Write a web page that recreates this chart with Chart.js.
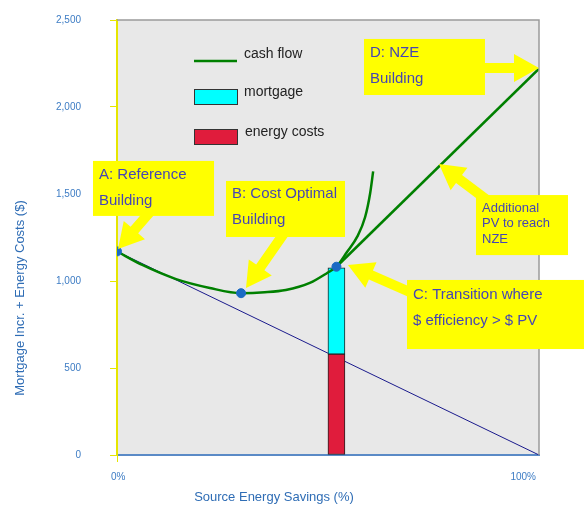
<!DOCTYPE html>
<html><head><meta charset="utf-8">
<script src="https://cdn.jsdelivr.net/npm/chart.js@4"></script>
<style>html,body{margin:0;padding:0;background:#fff}#wrap{width:584px;height:505px}</style>
</head><body><div id="wrap"><canvas id="c" width="584" height="505"></canvas></div>
<script>
// ---- data ----
const curveX = [0, 6, 14, 22, 29.4, 35, 40, 45.7, 49.8, 52, 54.5, 57, 58.8, 60, 60.7];
const curveY = [1170, 1092, 1011, 960, 930, 935, 948, 989, 1046, 1082, 1167, 1258, 1368, 1506, 1630];
const pvX = [52, 100];
const pvY = [1082, 2220];
const baseX = [0, 100];
const baseY = [1170, 0];
const pointX = [0, 29.4, 52];
const pointY = [1170, 930, 1082];
const barX = [52];
const energyCosts = [580];
const mortgage = [495];
const yTicks = [0, 500, 1000, 1500, 2000, 2500];
const xTickValues = [0, 100];
const xTickLabels = ['0%', '100%'];
const seriesNames = ['cash flow', 'mortgage', 'energy costs'];
const yTitle = 'Mortgage Incr. + Energy Costs ($)';
const xTitle = 'Source Energy Savings (%)';

// annotations, in axis units: box [x0,x1,y0,y1], arrow [fromX,fromY,toX,toY]
const notes = [
  {lines: ['A: Reference', 'Building'], box: [-5.69, 22.99, 1690, 1374], arrow: [7.82, 1397, 0.24, 1184], size: 15, first: 14, gap: 26},
  {lines: ['B: Cost Optimal', 'Building'], box: [25.83, 54.03, 1575, 1253], arrow: [39.81, 1282, 30.57, 960], size: 15, first: 13, gap: 26},
  {lines: ['C: Transition where', '$ efficiency > $ PV'], box: [68.72, 110.66, 1006, 609], arrow: [69.9, 931, 54.74, 1092], size: 15, first: 15, gap: 26},
  {lines: ['D: NZE', 'Building'], box: [58.53, 87.2, 2391, 2069], arrow: [86.0, 2224, 100, 2224], size: 15, first: 14, gap: 26},
  {lines: ['Additional', 'PV to reach', 'NZE'], box: [85.07, 106.87, 1494, 1149], arrow: [87.68, 1466, 76.3, 1672], size: 13, first: 13, gap: 15.5}
];

const zip = (xs, ys) => xs.map((x, i) => ({x, y: ys[i]}));
const FONT = '"Liberation Sans", Arial, sans-serif';

function arrow(ctx, x1, y1, x2, y2) {
  const dx = x2 - x1, dy = y2 - y1, L = Math.hypot(dx, dy);
  const ux = dx / L, uy = dy / L, nx = -uy, ny = ux;
  const hl = 25, hw = 14, sw = 5;
  const bx = x2 - ux * hl, by = y2 - uy * hl;
  ctx.beginPath();
  ctx.moveTo(x1 + nx * sw, y1 + ny * sw);
  ctx.lineTo(bx + nx * sw, by + ny * sw);
  ctx.lineTo(bx + nx * hw, by + ny * hw);
  ctx.lineTo(x2, y2);
  ctx.lineTo(bx - nx * hw, by - ny * hw);
  ctx.lineTo(bx - nx * sw, by - ny * sw);
  ctx.lineTo(x1 - nx * sw, y1 - ny * sw);
  ctx.closePath();
  ctx.fill();
}

const deco = {
  id: 'deco',
  beforeDraw(chart) {
    const {ctx, chartArea: a} = chart;
    ctx.save();
    ctx.fillStyle = '#fff';
    ctx.fillRect(0, 0, chart.width, chart.height);
    ctx.fillStyle = '#e8e8e8';
    ctx.fillRect(a.left, a.top, a.right - a.left, a.bottom - a.top);
    ctx.restore();
  },
  afterDraw(chart) {
    const {ctx, chartArea: a} = chart;
    const xs = chart.scales.x, ys = chart.scales.y;
    ctx.save();
    // top & right border
    ctx.strokeStyle = '#9a9a9a';
    ctx.lineWidth = 1.5;
    ctx.beginPath();
    ctx.moveTo(a.left, a.top); ctx.lineTo(a.right, a.top); ctx.lineTo(a.right, a.bottom);
    ctx.stroke();
    // legend
    const lx = a.left + 77;
    ctx.strokeStyle = '#008000'; ctx.lineWidth = 2.5;
    ctx.beginPath(); ctx.moveTo(lx, a.top + 41); ctx.lineTo(lx + 43, a.top + 41); ctx.stroke();
    ctx.lineWidth = 1; ctx.strokeStyle = '#333';
    ctx.fillStyle = '#00ffff';
    ctx.fillRect(lx, a.top + 69, 44, 16); ctx.strokeRect(lx + 0.5, a.top + 69.5, 43, 15);
    ctx.fillStyle = '#e01c3c';
    ctx.fillRect(lx, a.top + 109, 44, 16); ctx.strokeRect(lx + 0.5, a.top + 109.5, 43, 15);
    ctx.fillStyle = '#222';
    ctx.font = '14px ' + FONT;
    ctx.textBaseline = 'middle'; ctx.textAlign = 'left';
    ctx.fillText(seriesNames[0], lx + 50, a.top + 34);
    ctx.fillText(seriesNames[1], lx + 50, a.top + 72);
    ctx.fillText(seriesNames[2], lx + 51, a.top + 112);
    // annotations
    notes.forEach(n => {
      const x0 = xs.getPixelForValue(n.box[0]), x1 = xs.getPixelForValue(n.box[1]);
      const y0 = ys.getPixelForValue(n.box[2]), y1 = ys.getPixelForValue(n.box[3]);
      ctx.fillStyle = '#ffff00';
      arrow(ctx, xs.getPixelForValue(n.arrow[0]), ys.getPixelForValue(n.arrow[1]),
                 xs.getPixelForValue(n.arrow[2]), ys.getPixelForValue(n.arrow[3]));
      ctx.fillRect(x0, y0, x1 - x0, y1 - y0);
      ctx.fillStyle = '#4646b4';
      ctx.font = n.size + 'px ' + FONT;
      ctx.textAlign = 'left'; ctx.textBaseline = 'middle';
      n.lines.forEach((t, i) => ctx.fillText(t, x0 + 6, y0 + n.first + i * n.gap));
    });
    // x tick labels
    ctx.fillStyle = '#3d7cc4';
    ctx.font = '10px ' + FONT;
    ctx.textBaseline = 'middle';
    ctx.textAlign = 'left';
    ctx.fillText(xTickLabels[0], xs.getPixelForValue(xTickValues[0]) - 6, a.bottom + 22);
    ctx.textAlign = 'right';
    ctx.fillText(xTickLabels[1], xs.getPixelForValue(xTickValues[1]) - 3, a.bottom + 22);
    // axis titles
    ctx.fillStyle = '#2f6db5';
    ctx.font = '13px ' + FONT;
    ctx.textAlign = 'center';
    ctx.fillText(xTitle, 274, a.bottom + 42);
    ctx.translate(20, 298);
    ctx.rotate(-Math.PI / 2);
    ctx.fillText(yTitle, 0, 0);
    ctx.restore();
  }
};

new Chart(document.getElementById('c'), {
  type: 'line',
  data: {
    datasets: [
      {label: seriesNames[0], data: zip(curveX, curveY), borderColor: '#008000', borderWidth: 2.5,
        pointRadius: 0, cubicInterpolationMode: 'monotone', order: 2},
      {label: seriesNames[0], data: zip(pvX, pvY), borderColor: '#008000', borderWidth: 2.5,
        pointRadius: 0, order: 2},
      {label: 'reference', data: zip(baseX, baseY), borderColor: '#1a1a8c', borderWidth: 1,
        pointRadius: 0, order: 6},
      {type: 'bar', label: seriesNames[2], data: barX.map((x, i) => ({x, y: [0, energyCosts[i]]})),
        backgroundColor: '#e01c3c', borderColor: '#222', borderWidth: 1, borderSkipped: false,
        barThickness: 17, grouped: false, order: 4},
      {type: 'bar', label: seriesNames[1], data: barX.map((x, i) => ({x, y: [energyCosts[i], energyCosts[i] + mortgage[i]]})),
        backgroundColor: '#00ffff', borderColor: '#222', borderWidth: 1, borderSkipped: false,
        barThickness: 17, grouped: false, order: 4},
      {label: 'points', data: zip(pointX, pointY), showLine: false, pointRadius: 4.5,
        pointBackgroundColor: '#1b6ac4', pointBorderColor: '#1b6ac4', order: 1}
    ]
  },
  options: {
    responsive: false, animation: false, devicePixelRatio: 1,
    layout: {padding: {left: 0, right: 45, top: 20, bottom: 0}},
    plugins: {legend: {display: false}, tooltip: {enabled: false}},
    scales: {
      x: {type: 'linear', min: 0, max: 100, offset: false,
        afterFit: s => { s.height = 50; s.paddingLeft = 0; s.paddingRight = 0; },
        afterBuildTicks: s => { s.ticks = xTickValues.map(v => ({value: v})); },
        ticks: {display: false},
        grid: {offset: false, drawOnChartArea: false, drawTicks: true, tickLength: 7,
          color: c => (c.tick && c.tick.value === 0) ? '#e6e600' : 'rgba(0,0,0,0)'},
        border: {color: '#5a8ac6', width: 2}},
      y: {type: 'linear', min: 0, max: 2500,
        afterFit: s => { s.width = 117; s.paddingTop = 0; s.paddingBottom = 0; },
        afterBuildTicks: s => { s.ticks = yTicks.map(v => ({value: v})); },
        ticks: {color: '#3d7cc4', font: {size: 10, family: FONT}, padding: 29,
          callback: v => v.toLocaleString('en-US')},
        grid: {drawOnChartArea: false, drawTicks: true, tickLength: 7, color: '#e6e600'},
        border: {color: '#e6e600', width: 2}}
    }
  },
  plugins: [deco]
});
</script></body></html>
